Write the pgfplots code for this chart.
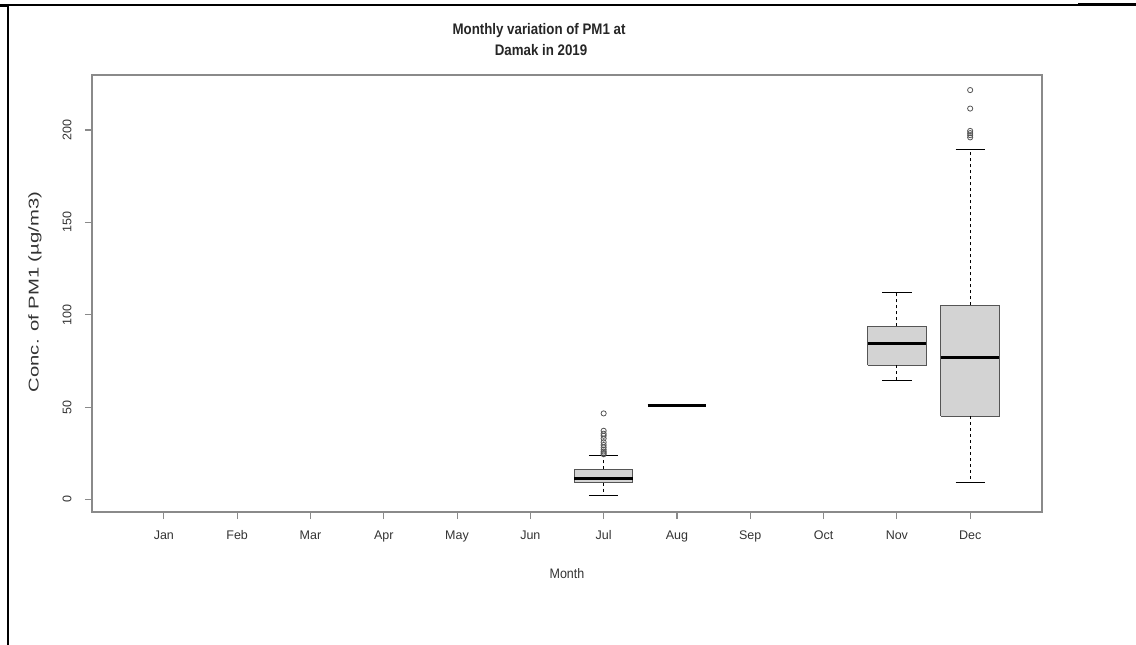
\documentclass[border=0pt]{standalone}
\usepackage{pgfplots}
\pgfplotsset{compat=1.18}
\usepackage{fontspec}
\setmainfont{Liberation Sans}
\definecolor{boxfill}{HTML}{D3D3D3}
\definecolor{boxedge}{HTML}{555555}
\definecolor{axgray}{HTML}{8A8A8A}
\begin{document}
\begin{tikzpicture}[x=1pt,y=1pt]
\useasboundingbox (0,0) rectangle (1136,-645);
% outer frame
\draw[black, line width=1.2pt] (8,-645) -- (8,-5) -- (1078,-5);
\draw[black, line width=3pt] (0,-5) -- (8,-5);
\draw[black, line width=3pt] (1078,-4.5) -- (1136,-4.5);
\begin{axis}[
  at={(92pt,-512pt)}, anchor=south west,
  width=950pt, height=437pt, scale only axis,
  xmin=0.02, xmax=12.98, ymin=-6.76, ymax=229.76,
  axis line style={axgray, line width=1.6pt},
  xtick={1,2,3,4,5,6,7,8,9,10,11,12},
  xticklabels={Jan,Feb,Mar,Apr,May,Jun,Jul,Aug,Sep,Oct,Nov,Dec},
  ytick={0,50,100,150,200},
  xtick pos=bottom, ytick pos=left,
  tick align=outside, major tick length=7pt,
  tick style={axgray, line width=1.1pt},
  /pgf/number format/assume math mode=true,
  tick label style={font=\fontsize{12.5}{14}\selectfont, text=black!80},
  yticklabel style={rotate=90, anchor=south},
  xticklabel shift=8pt, yticklabel shift=10pt,
  clip=false,
]
% ---------- Jul ----------
\addplot[draw=boxedge, fill=boxfill, line width=1pt] coordinates {(6.6,9.2) (7.4,9.2) (7.4,16.3) (6.6,16.3) (6.6,9.2)};
\addplot[black, line width=3pt] coordinates {(6.6,11.4) (7.4,11.4)};
\addplot[black, dash pattern=on 3pt off 3pt, line width=0.8pt] coordinates {(7,16.3) (7,23.8)};
\addplot[black, dash pattern=on 3pt off 3pt, line width=0.8pt] coordinates {(7,9.2) (7,2.2)};
\addplot[black, line width=1pt] coordinates {(6.8,23.8) (7.2,23.8)};
\addplot[black, line width=1pt] coordinates {(6.8,2.2) (7.2,2.2)};
\addplot[only marks, mark=o, mark size=2.6pt, boxedge, mark options={line width=0.8pt}] coordinates {
 (7,24.5) (7,25.2) (7,26.0) (7,27.0) (7,28.2) (7,29.5) (7,31.0) (7,33.0) (7,34.5) (7,35.6) (7,37.2) (7,46.6)};
% ---------- Aug ----------
\addplot[black, line width=3pt] coordinates {(7.6,51) (8.4,51)};
% ---------- Nov ----------
\addplot[draw=boxedge, fill=boxfill, line width=1pt] coordinates {(10.6,72.6) (11.4,72.6) (11.4,93.7) (10.6,93.7) (10.6,72.6)};
\addplot[black, line width=3pt] coordinates {(10.6,84.5) (11.4,84.5)};
\addplot[black, dash pattern=on 3pt off 3pt, line width=0.8pt] coordinates {(11,93.7) (11,112.1)};
\addplot[black, dash pattern=on 3pt off 3pt, line width=0.8pt] coordinates {(11,72.6) (11,64.5)};
\addplot[black, line width=1pt] coordinates {(10.8,112.1) (11.2,112.1)};
\addplot[black, line width=1pt] coordinates {(10.8,64.5) (11.2,64.5)};
% ---------- Dec ----------
\addplot[draw=boxedge, fill=boxfill, line width=1pt] coordinates {(11.6,45.0) (12.4,45.0) (12.4,105.1) (11.6,105.1) (11.6,45.0)};
\addplot[black, line width=3pt] coordinates {(11.6,76.9) (12.4,76.9)};
\addplot[black, dash pattern=on 3pt off 3pt, line width=0.8pt] coordinates {(12,105.1) (12,189.6)};
\addplot[black, dash pattern=on 3pt off 3pt, line width=0.8pt] coordinates {(12,45.0) (12,9.2)};
\addplot[black, line width=1pt] coordinates {(11.8,189.6) (12.2,189.6)};
\addplot[black, line width=1pt] coordinates {(11.8,9.2) (12.2,9.2)};
\addplot[only marks, mark=o, mark size=2.6pt, boxedge, mark options={line width=0.8pt}] coordinates {
 (12,196.0) (12,197.2) (12,198.3) (12,199.5) (12,211.6) (12,221.6)};
\end{axis}
\node[font=\bfseries\fontsize{13.3}{16}\selectfont, text=black!85] at (539,-31) {\scalebox{1}[1.15]{Monthly variation of PM1 at}};
\node[font=\bfseries\fontsize{13.3}{16}\selectfont, text=black!85] at (541,-50) {\scalebox{1}[1.15]{Damak in 2019}};
\node[font=\fontsize{12.5}{14}\selectfont, text=black!80] at (567,-574) {\scalebox{1}[1.1]{Month}};
\node[rotate=90, font=\fontsize{13.5}{14}\selectfont, text=black!80] at (35,-292) {\scalebox{1.5}[1.05]{Conc. of PM1 (µg/m3)}};
\end{tikzpicture}
\end{document}
